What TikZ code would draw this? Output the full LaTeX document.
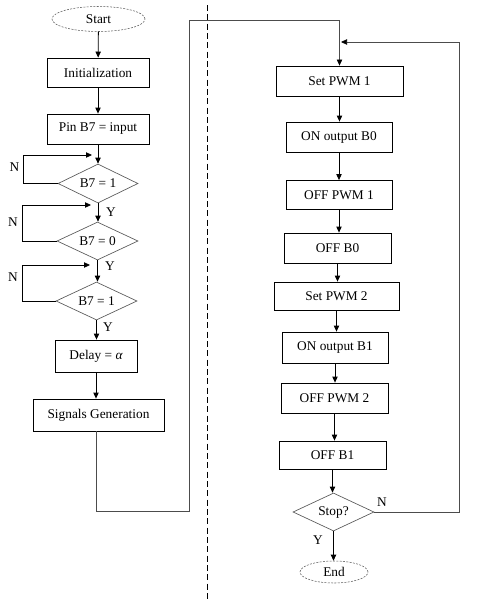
\documentclass[tikz,border=0pt]{standalone}
\usepackage{fontspec}
\setmainfont{Liberation Serif}
\usetikzlibrary{shapes.geometric,arrows.meta}

\tikzset{
  procbox/.style={draw, rectangle, inner sep=0.75pt, line width=0.6pt},
  decide/.style={draw=gray!70!black, diamond, aspect=2, inner sep=0pt, line width=0.5pt},
  term/.style={draw=gray!70!black, ellipse, inner sep=0pt, dash pattern=on 1.5pt off 1pt},
  flow/.style={-{Triangle[length=4.5pt,width=4pt]}, line width=0.6pt},
  wire/.style={-{Triangle[length=4.5pt,width=4pt,color=black]}, line width=0.5pt, draw=gray!60!black},
  tag/.style={inner sep=0.75pt}
}

\begin{document}
\begin{tikzpicture}[x=0.75pt,y=0.75pt,yscale=-1,xscale=1]
\useasboundingbox (0,0) rectangle (479,607);

% left column
\node [term, minimum width=69.75pt, minimum height=18.75pt] (start) at (98.5,19) {Start};
\node [procbox, minimum width=76.5pt, minimum height=21.75pt] (init) at (98,72.5) {Initialization};
\node [procbox, minimum width=76.5pt, minimum height=22.5pt] (pin) at (98,129) {Pin B7 = input};
\node [decide, minimum width=60pt, minimum height=29.25pt] (chk1) at (98,183.5) {B7 = 1};
\node [decide, minimum width=60.75pt, minimum height=28.5pt] (chk2) at (97.5,241) {B7 = 0};
\node [decide, minimum width=60.75pt, minimum height=28.5pt] (chk3) at (96.5,301) {B7 = 1};
\node [procbox, minimum width=61.5pt, minimum height=24pt] (delay) at (96,356) {Delay = {\itshape α}};
\node [procbox, minimum width=98.25pt, minimum height=24pt] (sig) at (98.5,415) {Signals Generation};

% right column
\node [procbox, minimum width=95.25pt, minimum height=22.5pt] (pwm1) at (339.5,81) {Set PWM 1};
\node [procbox, minimum width=79.5pt, minimum height=22.5pt] (onb0) at (339,137) {ON output B0};
\node [procbox, minimum width=79.5pt, minimum height=21.75pt] (offpwm1) at (339,195) {OFF PWM 1};
\node [procbox, minimum width=80.25pt, minimum height=22.5pt] (offb0) at (337.5,248) {OFF B0};
\node [procbox, minimum width=93.75pt, minimum height=21pt] (pwm2) at (336.5,296) {Set PWM 2};
\node [procbox, minimum width=79.5pt, minimum height=23.25pt] (onb1) at (335,347.5) {ON output B1};
\node [procbox, minimum width=80.25pt, minimum height=22.5pt] (offpwm2) at (334.5,398) {OFF PWM 2};
\node [procbox, minimum width=80.25pt, minimum height=21pt] (offb1) at (332.5,455) {OFF B1};
\node [decide, minimum width=60.75pt, minimum height=28.5pt] (stop) at (333.5,512) {Stop?};
\node [term, minimum width=51pt, minimum height=16.5pt] (finish) at (334,572) {End};

% labels
\node [tag] (n1) at (14.5,167.5) {N};
\node [tag] (n2) at (13,222) {N};
\node [tag] (n3) at (13,277) {N};
\node [tag] (y1) at (111,212.5) {Y};
\node [tag] (y2) at (110,266) {Y};
\node [tag] (y3) at (108,327) {Y};
\node [tag] (n4) at (382,502) {N};
\node [tag] (y4) at (318,540) {Y};

% corner points
\coordinate (loop1) at (23,155);
\coordinate (loop2) at (22,205);
\coordinate (loop3) at (22,265);
\coordinate (tip1) at (92,155);
\coordinate (tip2) at (91,205);
\coordinate (tip3) at (90,265);
\coordinate (jump1) at (189,511);
\coordinate (jump2) at (189,20);
\coordinate (back1) at (459,42);
\coordinate (back2) at (341,42);

% separator
\draw [dash pattern=on 4.5pt off 2.5pt, line width=0.6pt] (207,5) -- (207,602);

% left arrows
\draw [flow] (start) -- (init);
\draw [flow] (init) -- (pin);
\draw [flow] (pin) -- (chk1);
\draw [flow] (chk1.south) -- (chk1.south |- chk2.north);
\draw [flow] (chk2.south) -- (chk2.south |- chk3.north);
\draw [flow] (chk3.south) -- (chk3.south |- delay.north);
\draw [flow] (delay.south) -- (delay.south |- sig.north);
\draw [flow] (chk1.west) -| (loop1) -- (tip1);
\draw [flow] (chk2.west) -| (loop2) -- (tip2);
\draw [flow] (chk3.west) -| (loop3) -- (tip3);

% link to right column
\draw [wire] (delay.south |- sig.south) |- (jump1) -- (jump2) -| (pwm1.north);

% right arrows
\draw [flow] (pwm1.south) -- (pwm1.south |- onb0.north);
\draw [flow] (onb0.south) -- (onb0.south |- offpwm1.north);
\draw [flow] (offpwm1.south) -- (offpwm1.south |- offb0.north);
\draw [flow] (offb0.south) -- (offb0.south |- pwm2.north);
\draw [flow] (pwm2.south) -- (pwm2.south |- onb1.north);
\draw [flow] (onb1.south) -- (onb1.south |- offpwm2.north);
\draw [flow] (offpwm2.south) -- (offpwm2.south |- offb1.north);
\draw [flow] (offb1.south) -- (offb1.south |- stop.north);
\draw [flow] (stop.south) -- (stop.south |- finish.north);
\draw [wire] (stop.east) -| (back1) -- (back2);

\end{tikzpicture}
\end{document}
